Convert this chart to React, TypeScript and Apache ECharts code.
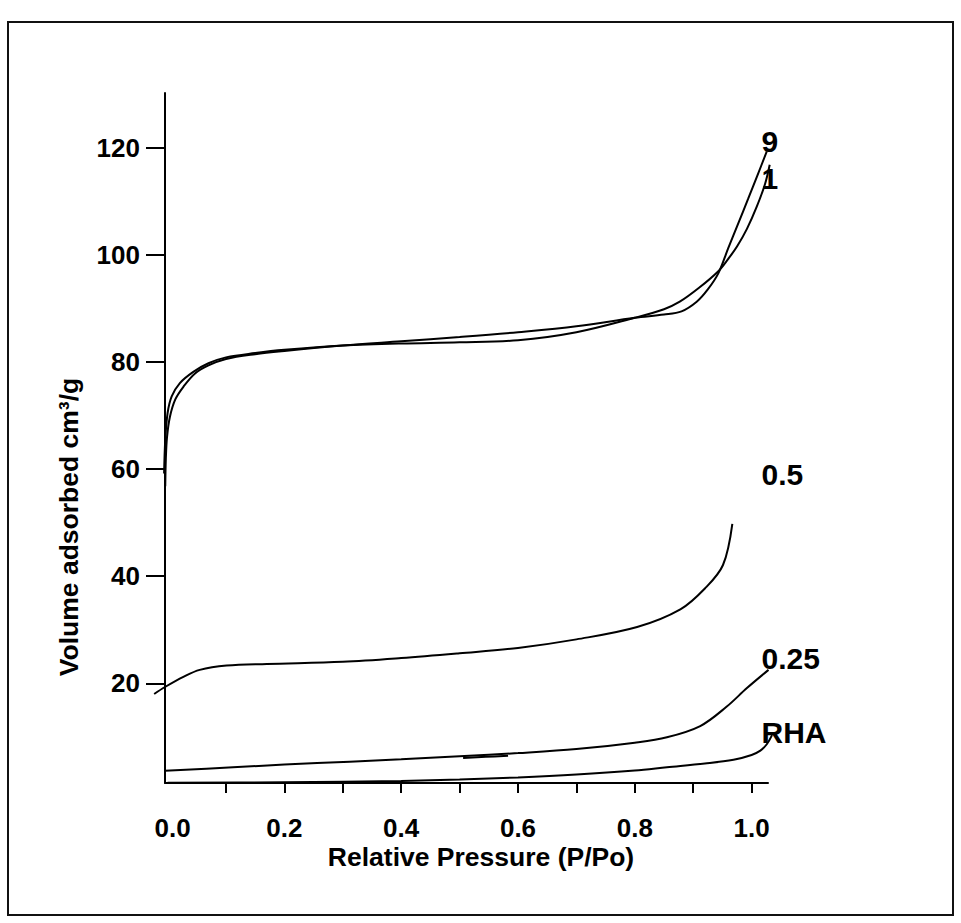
import React, { useEffect, useRef } from "react";
import * as echarts from "echarts";

// x: relative pressure P/Po, y: volume adsorbed cm3/g
const series9: [number, number][] = [
  [-0.004, 56.8], [-0.003, 62], [-0.001, 66], [0.004, 69.8], [0.013, 73], [0.027, 75.4],
  [0.047, 77.9], [0.07, 79.4], [0.1, 80.6], [0.15, 81.5], [0.2, 82.1], [0.3, 83.1],
  [0.4, 83.9], [0.5, 84.7], [0.6, 85.6], [0.7, 86.7], [0.8, 88.3], [0.85, 88.9],
  [0.88, 89.5], [0.906, 91.3], [0.925, 93.6], [0.943, 96.6], [0.96, 101.3], [0.977, 105.9],
  [0.994, 110.5], [1.01, 114.9], [1.026, 119.4],
];
const series1: [number, number][] = [
  [-0.006, 59.2], [-0.004, 65.5], [0.0, 70.5], [0.007, 73.6], [0.021, 76.1], [0.044, 78.2],
  [0.07, 79.8], [0.1, 80.9], [0.15, 81.7], [0.2, 82.3], [0.3, 83.1], [0.4, 83.5],
  [0.5, 83.7], [0.6, 84.1], [0.7, 85.6], [0.8, 88.3], [0.85, 89.9], [0.877, 91.3],
  [0.91, 93.9], [0.943, 97.0], [0.96, 99.3], [0.975, 101.6], [0.992, 104.9],
  [1.009, 109.1], [1.023, 113.3], [1.031, 116.9],
];
const series05: [number, number][] = [
  [-0.023, 18.0], [-0.0045, 19.3], [0.027, 21.2], [0.055, 22.5], [0.101, 23.3], [0.17, 23.6],
  [0.3, 24.0], [0.4, 24.7], [0.5, 25.6], [0.6, 26.6], [0.7, 28.2], [0.804, 30.5],
  [0.878, 33.8], [0.92, 37.7], [0.951, 42.1], [0.967, 49.8],
];
const series025: [number, number][] = [
  [-0.0045, 3.65], [0.112, 4.3], [0.2, 4.8], [0.312, 5.35], [0.4, 5.8], [0.5, 6.35],
  [0.6, 6.95], [0.7, 7.7], [0.8, 8.9], [0.855, 9.9], [0.912, 12.0],
  [0.957, 15.6], [0.992, 19.1], [1.029, 22.5],
];
const series025Branch: [number, number][] = [
  [0.506, 6.05], [0.545, 6.25], [0.583, 6.45],
];
const seriesRHA: [number, number][] = [
  [0.0, 1.4], [0.2, 1.5], [0.4, 1.75], [0.5, 2.0], [0.6, 2.4], [0.7, 2.95],
  [0.8, 3.7], [0.855, 4.3], [0.92, 5.0], [0.969, 5.7], [1.0, 6.6], [1.015, 7.4],
  [1.026, 8.6], [1.035, 10.3],
];

const xLabelValues = [0, 0.2, 0.4, 0.6, 0.8, 1.0];
const xTickValues = [0.1, 0.2, 0.3, 0.4, 0.5, 0.6, 0.7, 0.8, 0.9, 1.0];
const yTickValues = [20, 40, 60, 80, 100, 120];

const seriesNames = ["9", "1", "0.5", "0.25", "RHA"];

const FONT = "'Liberation Sans', Arial, Helvetica, sans-serif";

export default function App() {
  const ref = useRef<HTMLDivElement>(null);
  useEffect(() => {
    if (!ref.current) return;
    const chart = echarts.init(ref.current, null, { renderer: "svg" });
    const lineStyle = { color: "#000", width: 2 };
    const mk = (name: string, data: [number, number][]) => ({
      name,
      type: "line",
      xAxisIndex: 1,
      yAxisIndex: 1,
      data,
      showSymbol: false,
      symbol: "none",
      smooth: 0.35,
      clip: false,
      lineStyle,
      silent: true,
    });
    const labelText = (text: string, x: number, y: number) => ({
      type: "text",
      x,
      y,
      style: {
        text,
        fill: "#000",
        font: `bold 30px ${FONT}`,
        textAlign: "left",
        textVerticalAlign: "middle",
      },
    });
    const yMin = 1.36;
    const yMax = 130.3;
    const labelFont = { fontFamily: FONT, fontWeight: "bold", fontSize: 26, color: "#000" };
    chart.setOption({
      animation: false,
      backgroundColor: "#fff",
      grid: [
        { left: 165, right: 193, top: 93, bottom: 140, containLabel: false, outerBoundsMode: "none" },
        { left: 154, right: 186, top: 93, bottom: 140, containLabel: false, outerBoundsMode: "none" },
      ],
      xAxis: [
        {
          type: "value",
          gridIndex: 0,
          min: -0.00445,
          max: 1.0281,
          splitLine: { show: false },
          axisLine: { show: true, onZero: false, lineStyle: { color: "#000", width: 2 } },
          axisTick: {
            show: true,
            length: 10,
            customValues: xTickValues,
            lineStyle: { color: "#000", width: 2 },
          },
          axisLabel: {
            show: true,
            customValues: xLabelValues,
            margin: 32,
            ...labelFont,
            formatter: (v: number) => (v === 0 ? "{first|0.0}" : v.toFixed(1)),
            rich: {
              first: { ...labelFont, padding: [0, 0, 0, 10] },
            },
          },
        },
        {
          type: "value",
          gridIndex: 1,
          min: -0.023288,
          max: 1.040068,
          show: false,
          splitLine: { show: false },
        },
      ],
      yAxis: [
        {
          type: "value",
          gridIndex: 0,
          min: yMin,
          max: yMax,
          splitLine: { show: false },
          axisLine: { show: true, onZero: false, lineStyle: { color: "#000", width: 2 } },
          axisTick: {
            show: true,
            length: 19,
            customValues: yTickValues,
            lineStyle: { color: "#000", width: 2 },
          },
          axisLabel: {
            show: true,
            customValues: yTickValues,
            margin: 25,
            ...labelFont,
            padding: [0, 0, 6, 0],
          },
        },
        {
          type: "value",
          gridIndex: 1,
          min: yMin,
          max: yMax,
          show: false,
          splitLine: { show: false },
        },
      ],
      series: [
        mk(seriesNames[0], series9),
        mk(seriesNames[1], series1),
        mk(seriesNames[2], series05),
        mk(seriesNames[3], series025),
        mk("0.25 branch", series025Branch),
        mk(seriesNames[4], seriesRHA),
      ],
      graphic: [
        {
          type: "rect",
          shape: { x: 8, y: 22, width: 945, height: 893 },
          style: { fill: "none", stroke: "#111", lineWidth: 2 },
          silent: true,
        },
        {
          type: "text",
          x: 481,
          y: 857,
          style: {
            text: "Relative Pressure (P/Po)",
            fill: "#000",
            font: `bold 26.5px ${FONT}`,
            textAlign: "center",
            textVerticalAlign: "middle",
          },
        },
        {
          type: "text",
          x: 69,
          y: 527,
          rotation: Math.PI / 2,
          style: {
            text: "Volume adsorbed cm³/g",
            fill: "#000",
            font: `bold 26.5px ${FONT}`,
            textAlign: "center",
            textVerticalAlign: "middle",
          },
        },
        labelText(seriesNames[0], 761.5, 141.5),
        labelText(seriesNames[1], 761.5, 178.3),
        labelText(seriesNames[2], 761.5, 474),
        labelText(seriesNames[3], 761.5, 658),
        labelText(seriesNames[4], 761.5, 732.5),
      ],
    });
    return () => chart.dispose();
  }, []);
  return (
    <div
      ref={ref}
      style={{ position: "absolute", left: 0, top: 0, width: 961, height: 923 }}
    />
  );
}
